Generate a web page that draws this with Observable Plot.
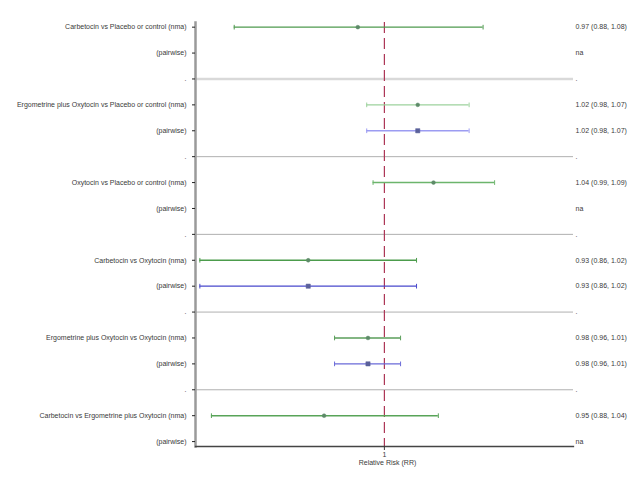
<!DOCTYPE html>
<html><head><meta charset="utf-8">
<script src="https://cdn.jsdelivr.net/npm/d3@7"></script>
<script src="https://cdn.jsdelivr.net/npm/@observablehq/plot@0.6"></script>
<style>body{margin:0;background:#fff;font-family:"Liberation Sans",Arial,sans-serif}</style>
</head><body><div id="chart"></div>
<script>
// ---- data ----
const comparisons = [
  "Carbetocin vs Placebo or control",
  "Ergometrine plus Oxytocin vs Placebo or control",
  "Oxytocin vs Placebo or control",
  "Carbetocin vs Oxytocin",
  "Ergometrine plus Oxytocin vs Oxytocin",
  "Carbetocin vs Ergometrine plus Oxytocin"
];
const nmaEst = [0.979, 1.027, 1.040, 0.941, 0.987, 0.953];
const nmaLo  = [0.887, 0.986, 0.991, 0.863, 0.961, 0.871];
const nmaHi  = [1.082, 1.070, 1.092, 1.026, 1.013, 1.044];
const pwEst  = [null, 1.027, null, 0.941, 0.987, null];
const pwLo   = [null, 0.986, null, 0.863, 0.961, null];
const pwHi   = [null, 1.070, null, 1.026, 1.013, null];
const nmaText = ["0.97 (0.88, 1.08)", "1.02 (0.98, 1.07)", "1.04 (0.99, 1.09)", "0.93 (0.86, 1.02)", "0.98 (0.96, 1.01)", "0.95 (0.88, 1.04)"];
const pwText  = ["na", "1.02 (0.98, 1.07)", "na", "0.93 (0.86, 1.02)", "0.98 (0.96, 1.01)", "na"];
const xTicks = [1];
const xTickLabels = ["1"];
const xLabel = "Relative Risk (RR)";

// ---- styling (not data) ----
const nmaShade = ["#4e9a4e", "#9dd29d", "#6cb56c", "#4c9c4c", "#5a9e5a", "#58a458"];
const pwShade  = [null, "#9c9cf2", null, "#4848cc", "#6a6ad8", null];

// ---- build rows ----
const rows = [];
comparisons.forEach((c, i) => {
  rows.push({row: 3*i, left: c + " (nma)", right: nmaText[i], type: "nma", est: nmaEst[i], lo: nmaLo[i], hi: nmaHi[i], color: nmaShade[i]});
  rows.push({row: 3*i+1, left: "(pairwise)", right: pwText[i], type: "pw", est: pwEst[i], lo: pwLo[i], hi: pwHi[i], color: pwShade[i]});
  if (i < comparisons.length - 1) rows.push({row: 3*i+2, left: ".", right: ".", type: "sep"});
});
const seps = rows.filter(d => d.type === "sep");
const bars = rows.filter(d => d.type !== "sep" && d.est != null);
const leftOf = new Map(rows.map(d => [d.row, d.left]));
const rightOf = new Map(rows.map(d => [d.row, d.right]));
const xLab = new Map(xTicks.map((t, i) => [t, xTickLabels[i]]));
const cap = 0.09;

const chart = Plot.plot({
  width: 640, height: 480,
  marginLeft: 195, marginRight: 67, marginTop: 22, marginBottom: 34,
  style: {fontSize: "7px", fontFamily: "'Liberation Sans', Arial, sans-serif", color: "#3a3a3a", background: "#fff"},
  x: {type: "log", domain: [0.86, 1.163], label: null},
  y: {domain: [-0.18, 16.19], reverse: true, label: null},
  marks: [
    Plot.ruleY(seps, {y: "row", stroke: d => d.row === 2 ? "#d9d9d9" : "#b0b0b0", strokeWidth: d => d.row === 2 ? 2.5 : 1}),
    Plot.ruleX(xTicks, {stroke: "#ad3556", strokeDasharray: "11,5", strokeWidth: 1.2}),
    Plot.ruleY(bars, {y: "row", x1: "lo", x2: "hi", stroke: "color", strokeWidth: 1.4}),
    Plot.link(bars, {x1: "lo", x2: "lo", y1: d => d.row - cap, y2: d => d.row + cap, stroke: "color", strokeWidth: 1}),
    Plot.link(bars, {x1: "hi", x2: "hi", y1: d => d.row - cap, y2: d => d.row + cap, stroke: "color", strokeWidth: 1}),
    Plot.dot(bars.filter(d => d.type === "nma"), {x: "est", y: "row", r: 1.9, fill: "#5d8a68", stroke: "#5d8a68", strokeWidth: 0.5}),
    Plot.dot(bars.filter(d => d.type === "pw"), {x: "est", y: "row", r: 2.4, symbol: "square", fill: "#5a609a", stroke: "#5a609a", strokeWidth: 0.5}),
    Plot.frame({anchor: "left", stroke: "#9a9a9a", strokeWidth: 2.5}),
    Plot.frame({anchor: "bottom", stroke: "#444", strokeWidth: 1.3}),
    Plot.axisY({ticks: rows.map(d => d.row), tickFormat: r => leftOf.get(r), tickSize: 3, tickPadding: 6, label: null, stroke: "#222"}),
    Plot.axisY({anchor: "right", ticks: rows.map(d => d.row), tickFormat: r => rightOf.get(r), tickSize: 0, tickPadding: 2, label: null}),
    Plot.axisX({ticks: xTicks, tickFormat: d => xLab.get(d), tickSize: 4, tickPadding: 2, label: null}),
    Plot.text([xLabel], {frameAnchor: "bottom", dy: 18, dx: 3, fontSize: 7, fill: "#3a3a3a"})
  ]
});
document.getElementById("chart").appendChild(chart);
</script>
</body></html>
